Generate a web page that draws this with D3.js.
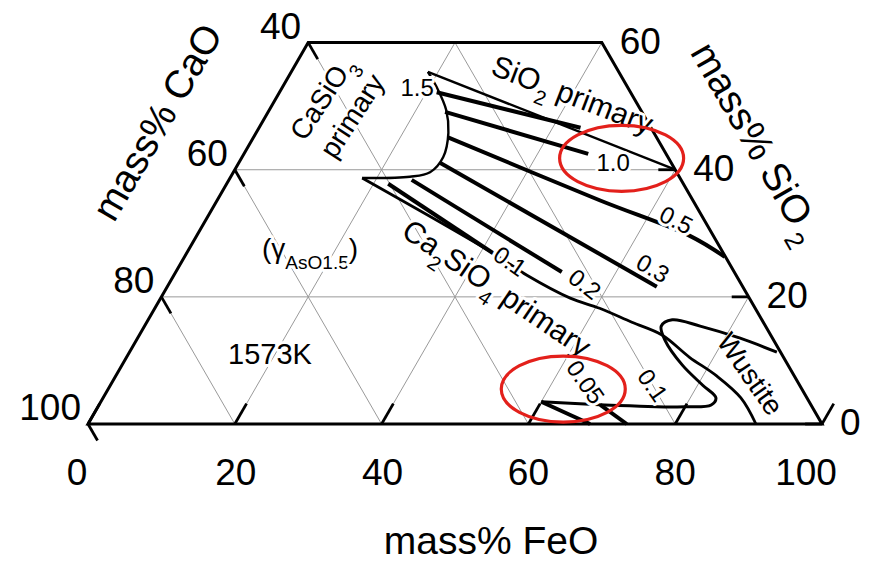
<!DOCTYPE html>
<html><head><meta charset="utf-8">
<script src="https://cdn.jsdelivr.net/npm/d3@7"></script>
<style>
body{margin:0;background:#fff}
svg{display:block;font-family:"Liberation Sans",Arial,Helvetica,sans-serif}
</style></head><body>
<svg id="c" width="871" height="562"></svg>
<script>
// ---------- data (compositions as [FeO, SiO2] mass%) ----------
const feoTicks = [0, 20, 40, 60, 80, 100];
const caoTicks = [100, 80, 60, 40];
const sio2Ticks = [0, 20, 40, 60];
const gridLevels = [20, 40, 60, 80];
const sio2Max = 60;

const casio3Boundary = [[18.6,55.4],[21.0,53.0],[24.1,49.4],[26.2,45.8],[27.4,42.0],[26.8,39.6],[24.4,38.9],[18.0,38.7]];
const sio2Boundary = [[18.6,55.4],[60.0,40.0]];
const ca2sio4Boundary = [[18.0,38.7],[41.7,26.9],[48.1,23.4],[55.8,19.8],[60.6,18.2],[66.1,16.0],[71.2,14.0],[76.7,10.5],[81.8,7.6],[86.9,4.1],[91.0,0]];
const wustiteLoop = [[88.2,11.3],[82.1,13.5],[75.7,15.4],[71.4,16.4],[70.4,15.4],[72.0,13.2],[76.3,9.3],[80.7,6.1],[83.5,4.1],[83.4,3.0],[80.0,2.7],[73.8,2.8],[66.8,3.1],[60.0,3.5]];

const iso15 = [[21.4,52.2],[43.8,46.6]];
const iso10 = [[24.1,49.1],[46.9,42.5]];
const iso05 = [[26.5,45.1],[52.1,35.2],[67.2,29.6],[73.6,26.3]];
const iso03 = [[27.4,41.1],[66.7,21.6]];
const iso02 = [[24.9,38.4],[52.6,23.9]];
const iso01 = [[22.0,37.8],[41.7,26.9]];
const iso005a = [[60.0,3.5],[68.4,0]];
const iso005b = [[68.3,3.0],[73.4,0]];

const isoLabels = [
  {t:"1.5", p:[18.4,52.9], r:0},
  {t:"1.0", p:[51.0,41.1], r:0},
  {t:"0.5", p:[64.1,32.1], r:27},
  {t:"0.3", p:[64.7,24.5], r:30},
  {t:"0.2", p:[56.7,22.0], r:38},
  {t:"0.1", p:[44.7,25.6], r:35},
  {t:"0.1", p:[73.9,6.1], r:55},
  {t:"0.05", p:[64.5,6.6], r:55}
];
const highlightCenters = [[51.8,41.8],[62.0,5.5]];

// ---------- scales ----------
const svg = d3.select("#c");
const X = d3.scaleLinear().domain([0,100]).range([88,822]);
const Y = d3.scaleLinear().domain([0,100]).range([424, 424 - 734*Math.sqrt(3)/2]);
const P = ([f,s]) => [X(f + s/2), Y(s)];
const straight = d3.line().x(d=>P(d)[0]).y(d=>P(d)[1]);
const smooth = d3.line().x(d=>P(d)[0]).y(d=>P(d)[1]).curve(d3.curveCatmullRom.alpha(0.5));

// ---------- grid ----------
const grid = svg.append("g").attr("stroke","#9a9a9a").attr("stroke-width",1).attr("fill","none");
gridLevels.forEach(v=>{
  if (v < sio2Max) grid.append("path").attr("d", straight([[0,v],[100-v,v]]));
  grid.append("path").attr("d", straight([[v,0],[v,Math.min(sio2Max,100-v)]]));
  const sEnd = Math.min(sio2Max, v);
  grid.append("path").attr("d", straight([[v,0],[v-sEnd,sEnd]]));
});

// ---------- frame ----------
svg.append("path").attr("d", straight([[0,0],[100,0],[100-sio2Max,sio2Max],[0,sio2Max]])+"Z")
  .attr("fill","none").attr("stroke","#000").attr("stroke-width",3).attr("stroke-linejoin","miter");

// ---------- ticks ----------
const tk = svg.append("g").attr("stroke","#000").attr("stroke-width",2.8).attr("fill","none");
feoTicks.forEach(f=>tk.append("path").attr("d", straight([[f,0],[f,3.2]])));
caoTicks.forEach(c=>{const s=100-c; tk.append("path").attr("d", straight([[0,s],[2.6,s-2.6]]));});
sio2Ticks.forEach(s=>tk.append("path").attr("d", straight([[100-s,s],[100-s-2.3,s]])));

// ---------- tick labels ----------
const tl = svg.append("g").attr("font-size",37).attr("fill","#000");
const feoDx = [-11,1,1,0,0,-16];
feoTicks.forEach((f,i)=>tl.append("text").attr("x",X(f)+feoDx[i]).attr("y",485).attr("text-anchor","middle").text(f));
caoTicks.forEach(c=>{const [x,y]=P([0,100-c]); tl.append("text").attr("x",x-7).attr("y",y-4).attr("text-anchor","end").text(c);});
sio2Ticks.forEach(s=>{const [x,y]=P([100-s,s]); tl.append("text").attr("x",x+18).attr("y",y+11).attr("text-anchor","start").text(s);});

// ---------- axis titles ----------
svg.append("text").attr("x",491).attr("y",554).attr("text-anchor","middle").attr("font-size",39).text("mass% FeO");
svg.append("text").attr("transform","translate(157,122) rotate(-60)").attr("text-anchor","middle").attr("dy","0.35em").attr("font-size",39).text("mass% CaO");
const sT = svg.append("text").attr("transform","translate(757,142) rotate(60)").attr("text-anchor","middle").attr("dy","0.35em").attr("font-size",39);
sT.append("tspan").text("mass% SiO");
sT.append("tspan").attr("font-size",26).attr("dy",12).attr("dx",5).text("2");

// ---------- boundaries & iso-lines ----------
const lines = svg.append("g").attr("fill","none").attr("stroke","#000").attr("stroke-linecap","butt").attr("stroke-linejoin","round");
lines.append("path").attr("d", smooth(casio3Boundary)).attr("stroke-width",2.4);
lines.append("path").attr("d", straight(sio2Boundary)).attr("stroke-width",2.4);
lines.append("path").attr("d", smooth(ca2sio4Boundary)).attr("stroke-width",2.8);
lines.append("path").attr("d", smooth(wustiteLoop)).attr("stroke-width",3);
[iso15, iso10, iso03, iso02, iso01, iso005a, iso005b].forEach(d=>lines.append("path").attr("d", straight(d)).attr("stroke-width",4));
lines.append("path").attr("d", smooth(iso05)).attr("stroke-width",4);

// ---------- text labels with white halo ----------
function halo(sel, w){ return sel.attr("stroke","#fff").attr("stroke-width",w||6).attr("paint-order","stroke").attr("stroke-linejoin","round"); }
const lab = svg.append("g").attr("fill","#000");
isoLabels.forEach(d=>{
  const [x,y]=P(d.p);
  halo(lab.append("text").attr("transform",`translate(${x},${y}) rotate(${d.r})`).attr("text-anchor","middle").attr("dy","0.35em").attr("font-size",24).text(d.t));
});
function region(p, r, parts, size, w){
  const [x,y]=P(p);
  const t = halo(lab.append("text").attr("transform",`translate(${x},${y}) rotate(${r})`).attr("text-anchor","middle").attr("dy","0.35em").attr("font-size",size), w);
  parts.forEach(([s,sub])=>{
    const ts=t.append("tspan").text(s);
    if(sub==="sub") ts.attr("font-size",size*0.68).attr("baseline-shift","sub");
  });
}
region([6.2,51.3], -57, [["CaSiO"],["3","sub"]], 28);
region([11.7,48.5], -57, [["primary"]], 28);
region([40.1,51.8], 21, [["SiO"],["2","sub"],[" primary"]], 30);
region([45.0,21.4], 34, [["Ca"],["2","sub"],["SiO"],["4","sub"],[" primary"]], 30);
region([86.3,7.9], 55, [["Wustite"]], 28, 2);
region([19.3,11.0], 0, [["1573K"]], 29);
region([16.4,27.7], 0, [["(γ"],["AsO1.5","sub"],[")"]], 28);

// ---------- highlight ellipses ----------
highlightCenters.forEach(c=>{
  const [x,y]=P(c);
  svg.append("ellipse").attr("cx",x).attr("cy",y).attr("rx",62).attr("ry",33)
    .attr("fill","none").attr("stroke","#e3201b").attr("stroke-width",3.2);
});
</script>
</body></html>
